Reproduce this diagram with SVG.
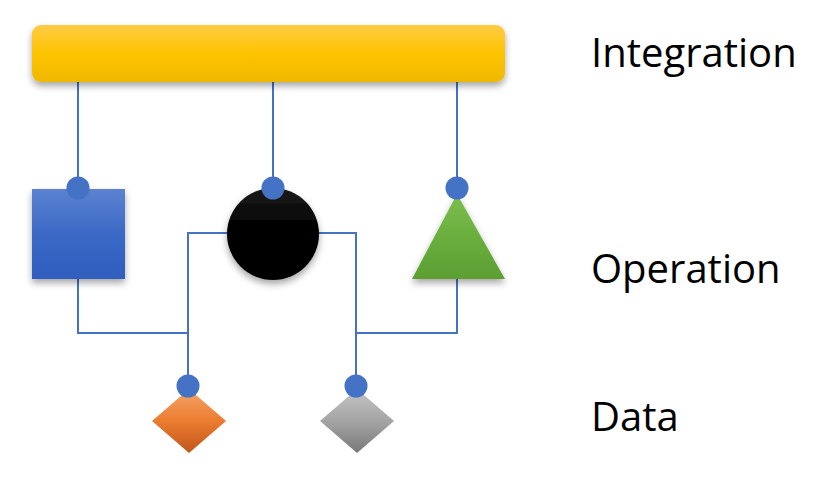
<svg xmlns="http://www.w3.org/2000/svg" width="822" height="478" viewBox="0 0 822 478">
  <defs>
    <filter id="sh" x="-20%" y="-20%" width="140%" height="150%">
      <feDropShadow dx="0" dy="4" stdDeviation="3.5" flood-color="#000" flood-opacity="0.35"/>
    </filter>
    <linearGradient id="gY" x1="0" y1="0" x2="0" y2="1">
      <stop offset="0" stop-color="#FFCB45"/>
      <stop offset="0.5" stop-color="#FFC400"/>
      <stop offset="1" stop-color="#EDB800"/>
    </linearGradient>
    <linearGradient id="gB" x1="0" y1="0" x2="0" y2="1">
      <stop offset="0" stop-color="#5B82D0"/>
      <stop offset="0.5" stop-color="#3B69C6"/>
      <stop offset="1" stop-color="#2F5EBE"/>
    </linearGradient>
    <linearGradient id="gK" x1="0" y1="0" x2="0" y2="1">
      <stop offset="0" stop-color="#1c1c1c"/>
      <stop offset="0.45" stop-color="#000"/>
      <stop offset="1" stop-color="#000"/>
    </linearGradient>
    <linearGradient id="gG" x1="0" y1="0" x2="0" y2="1">
      <stop offset="0" stop-color="#7DBE50"/>
      <stop offset="0.5" stop-color="#6AAF3E"/>
      <stop offset="1" stop-color="#5C9E33"/>
    </linearGradient>
    <linearGradient id="gO" x1="0" y1="0" x2="0" y2="1">
      <stop offset="0" stop-color="#F4A46A"/>
      <stop offset="0.5" stop-color="#EC7C30"/>
      <stop offset="1" stop-color="#C0561A"/>
    </linearGradient>
    <linearGradient id="gS" x1="0" y1="0" x2="0" y2="1">
      <stop offset="0" stop-color="#C4C4C4"/>
      <stop offset="0.5" stop-color="#A5A5A5"/>
      <stop offset="1" stop-color="#787878"/>
    </linearGradient>
  </defs>
  <style>
    .ln { fill: none; stroke: #4472C4; stroke-width: 2; }
    .dot { fill: #4472C4; }
    .lbl { font-family: "Open Sans", "Liberation Sans", sans-serif; font-size: 40px; fill: #000; }
  </style>

  <g id="connectors">
    <line class="ln" x1="78" y1="82" x2="78" y2="188"/>
    <line class="ln" x1="273" y1="82" x2="273" y2="188"/>
    <line class="ln" x1="457" y1="82" x2="457" y2="188"/>
    <polyline class="ln" points="78,279 78,333 188,333"/>
    <polyline class="ln" points="228,233 188,233 188,386"/>
    <polyline class="ln" points="318,233 356,233 356,386"/>
    <polyline class="ln" points="457,279 457,333 356,333"/>
  </g>

  <g id="integration-bar">
    <rect x="32" y="25" width="473" height="57" rx="9" fill="url(#gY)" filter="url(#sh)"/>
  </g>

  <g id="square">
    <rect x="32" y="189" width="93" height="90" fill="url(#gB)" filter="url(#sh)"/>
    <circle class="dot" cx="78" cy="188" r="11.5"/>
  </g>

  <g id="circle">
    <circle cx="273" cy="234" r="46" fill="url(#gK)" filter="url(#sh)"/>
    <circle class="dot" cx="273" cy="188" r="11.5"/>
  </g>

  <g id="triangle">
    <polygon points="457,194 505,279 412,279" fill="url(#gG)" filter="url(#sh)"/>
    <circle class="dot" cx="457" cy="188" r="11.5"/>
  </g>

  <g id="diamond-orange">
    <polygon points="189,389 226,421 189,453 152,421" fill="url(#gO)"/>
    <circle class="dot" cx="188" cy="386" r="11.5"/>
  </g>

  <g id="diamond-gray">
    <polygon points="357,389 394,421 357,453 320,421" fill="url(#gS)"/>
    <circle class="dot" cx="356" cy="386" r="11.5"/>
  </g>

  <g id="labels">
    <text class="lbl" x="591" y="67">Integration</text>
    <text class="lbl" x="591" y="283">Operation</text>
    <text class="lbl" x="591" y="431">Data</text>
  </g>
</svg>
